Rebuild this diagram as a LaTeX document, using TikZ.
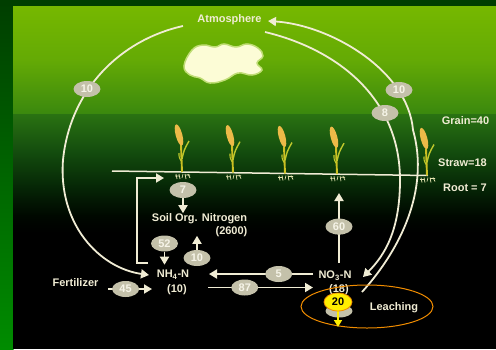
\documentclass[tikz,border=0pt]{standalone}
\usepackage{fontspec}
\setmainfont{Liberation Sans}
\usetikzlibrary{arrows.meta,shapes.geometric}

\definecolor{frameTop}{RGB}{0,62,0}
\definecolor{frameBot}{RGB}{0,140,0}
\definecolor{skyA}{RGB}{118,184,0}
\definecolor{skyB}{RGB}{100,170,5}
\definecolor{skyC}{RGB}{58,136,14}
\definecolor{fieldA}{RGB}{42,114,18}
\definecolor{fieldB}{RGB}{20,78,14}
\definecolor{fieldC}{RGB}{6,40,6}
\definecolor{fieldD}{RGB}{0,8,0}
\definecolor{ink}{RGB}{240,236,212}
\definecolor{tagfill}{RGB}{196,193,170}
\definecolor{tagtext}{RGB}{246,244,232}
\definecolor{earc}{RGB}{236,186,72}
\definecolor{stalkc}{RGB}{204,192,34}
\definecolor{leafc}{RGB}{190,200,44}
\definecolor{cloudc}{RGB}{252,252,214}
\definecolor{ringc}{RGB}{240,140,0}
\definecolor{hiyel}{RGB}{255,238,0}

\tikzset{
  flow/.style={draw=ink, line width=1.8pt},
  arr/.style={flow, -{Triangle[length=8pt,width=9pt]}},
  tag/.style={ellipse, fill=tagfill, text=tagtext, inner sep=0pt,
    minimum width=27pt, minimum height=16pt,
    font=\bfseries\fontsize{11}{12}\selectfont},
  lab/.style={text=ink, inner sep=0pt, font=\bfseries\fontsize{11}{12}\selectfont},
  crop/.pic={
    \draw[stalkc, line width=1.9pt] (-1,-27) .. controls (-0.5,-14) .. (0,0);
    \draw[leafc, line width=1.4pt] (0,-13) .. controls (2,-22) .. (7,-31);
    \draw[leafc, line width=1.1pt] (-1,-11) .. controls (-3,-15) .. (-3,-19);
    \fill[earc, rotate around={15:(-3,-37)}] (-3,-37) ellipse (3.3 and 11);
    \draw[ink!80!leafc, line width=0.7pt]
      (-6,2) -- (-5,7) (-3,2) -- (-2,7) (1,2) -- (0,6) (3,2) -- (4,7)
      (6,2) -- (8,6) (-7,4) -- (-3,4) (3,3) -- (8,3);
  }
}

\begin{document}
\begin{tikzpicture}[x=1pt,y=-1pt]
\useasboundingbox (0,0) rectangle (496,349);

% frame and backdrop: sky fading into soil
\fill[top color=frameTop,bottom color=frameBot] (0,0) rectangle (13.5,349);
\fill[frameTop] (0,0) rectangle (496,6);
\fill[top color=skyA,bottom color=skyB] (13,6) rectangle (496,60.5);
\fill[top color=skyB,bottom color=skyC] (13,60) rectangle (496,114.5);
\fill[top color=fieldA,bottom color=fieldB] (13,114) rectangle (496,150.5);
\fill[top color=fieldB,bottom color=fieldC] (13,150) rectangle (496,185.5);
\fill[top color=fieldC,bottom color=fieldD] (13,185) rectangle (496,215.5);
\fill[top color=fieldD,bottom color=black] (13,215) rectangle (496,232.5);
\fill[black] (13,232) rectangle (496,349);

% cloud
\filldraw[fill=cloudc, draw=cloudc!55!skyA, line width=1.5pt]
  plot[smooth cycle, tension=0.7] coordinates {(184,66) (192,50) (203,45) (215,47)
  (224,44) (236,47) (247,44) (258,48) (263,56) (257,63) (262,70) (252,75)
  (238,73) (225,80) (210,83) (200,78) (190,75)};

% soil surface and crop row
\coordinate (gl) at (112,171);
\coordinate (gr) at (428,175.5);
\draw[draw=ink, line width=1.5pt] (gl) -- (gr);
\pic at (182,172) {crop};
\pic at (233,172.7) {crop};
\pic at (285,173.5) {crop};
\pic at (337,174.2) {crop};
\pic at (427,175.5) {crop};

% pools and texts
\node[lab] (atm) at (229.5,20) {Atmosphere};
\node[lab] (son) at (199.5,219) {Soil Org. Nitrogen};
\node[lab] (sonv) at (231.5,232) {(2600)};
\node[lab] (nh4) at (173,275) {NH\textsubscript{4}-N};
\node[lab] (nh4v) at (177,290) {(10)};
\node[lab] (no3) at (335,276) {NO\textsubscript{3}-N};
\node[lab] (no3v) at (339,290) {(18)};
\node[lab] (fert) at (75.5,283) {Fertilizer};
\node[lab] (leach) at (394,308) {Leaching};
\node[lab] (grain) at (465.5,121) {Grain=40};
\node[lab] (straw) at (462.5,163) {Straw=18};
\node[lab] (root) at (465,188) {Root = 7};

% end points of the curved fluxes
\coordinate (atmL) at (183,26);
\coordinate (atmR) at (265,32);
\coordinate (atmIn) at (268,21);
\coordinate (nhIn) at (149,275);
\coordinate (noIn) at (363,277);
\coordinate (noOut) at (362,292);

% deposition to ammonium
\draw[arr] (atmL) .. controls (120,40) and (70,90) .. (63,160)
  .. controls (58,225) and (100,268) .. (nhIn);
\node[tag] (d10) at (87,89) {10};

% deposition to nitrate
\draw[arr] (atmR) .. controls (340,50) and (400,100) .. (400,180)
  .. controls (400,230) and (385,255) .. (noIn);
\node[tag] (d8) at (385,113) {8};

% denitrification losses
\draw[arr] (noOut) .. controls (400,250) and (430,190) .. (413,130)
  .. controls (408,70) and (330,25) .. (atmIn);
\node[tag] (d10b) at (399,90) {10};

% immobilisation loop from ammonium back to the crop
\coordinate (lp0) at (148,263);
\coordinate (lp1) at (137,263);
\coordinate (lp2) at (137,178);
\coordinate (lp3) at (164,178);
\draw[arr] (lp0) -- (lp1) -- (lp2) -- (lp3);

% residue input to soil organic nitrogen
\node[tag] (r7) at (183,190) {7};
\draw[arr] (r7.south) -- ++(0,15);

% mineralisation and immobilisation
\node[tag] (m52) at (164.5,243.5) {52};
\draw[arr] (m52.south) -- ++(0,13);
\node[tag] (i10) at (197,258) {10};
\draw[arr] (i10.north) -- ++(0,-14);

% fertilizer
\coordinate (f0) at (108,289);
\coordinate (f1) at (152,289);
\draw[arr] (f0) -- node[tag, pos=0.4] {45} (f1);

% nitrification and reduction
\coordinate (n0) at (313,274);
\coordinate (n1) at (209,274);
\draw[arr] (n0) -- node[tag, pos=0.33] {5} (n1);
\coordinate (k0) at (208,287.5);
\coordinate (k1) at (313,287.5);
\draw[arr] (k0) -- node[tag, pos=0.35] {87} (k1);

% crop uptake of nitrate
\coordinate (u0) at (339,263);
\coordinate (u1) at (339,193);
\draw[arr] (u0) -- node[tag, pos=0.52] {60} (u1);

% leaching
\node[draw=ringc, line width=1pt, ellipse, minimum width=132pt, minimum height=43pt,
  inner sep=0pt] (ring) at (367,306.5) {};
\node[tag, minimum height=13pt] (lold) at (339,311) {};
\coordinate (lq) at (338,327);
\draw[draw=hiyel, line width=1.6pt, -{Triangle[length=7pt,width=8pt]}] (338,296) -- (lq);
\node[ellipse, fill=hiyel, draw=ringc, line width=0.8pt, inner sep=0pt,
  minimum width=28pt, minimum height=18pt, text=black,
  font=\bfseries\fontsize{11}{12}\selectfont] (l20) at (338,302) {20};

\end{tikzpicture}
\end{document}
